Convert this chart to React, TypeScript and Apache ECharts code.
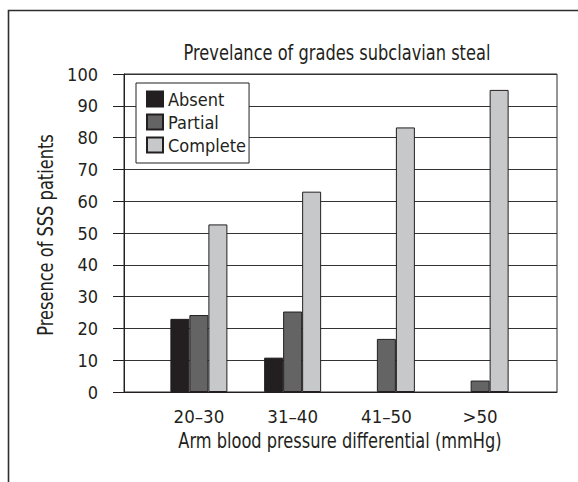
import React, { useEffect, useRef } from "react";
import * as echarts from "echarts";

const categories = ["20–30", "31–40", "41–50", ">50"];
const absent: (number | string)[] = [23, 10.8, "-", "-"];
const partial = [24.2, 25.3, 16.7, 3.6];
const complete = [52.7, 63, 83.2, 95];
const yTicks = { min: 0, max: 100, interval: 10 };
const titleText = "Prevelance of grades subclavian steal";
const xName = "Arm blood pressure differential (mmHg)";
const yName = "Presence of SSS patients";

const FONT = "'Liberation Sans Narrow', 'DejaVu Sans Condensed', sans-serif";
const INK = "#231f20";
const SQUEEZE = 0.82;

export default function App() {
  const ref = useRef<HTMLDivElement>(null);
  useEffect(() => {
    if (!ref.current) return;
    const chart = echarts.init(ref.current, null, { renderer: "svg" });
    const barStyle = (color: string) => ({ color, borderColor: INK, borderWidth: 1 });
    const label = (text: string, x: number, y: number, rotation = 0) => ({
      type: "text",
      x,
      y,
      rotation,
      scaleX: SQUEEZE,
      silent: true,
      style: {
        text,
        font: `22px ${FONT}`,
        fill: INK,
        textAlign: "center",
        textVerticalAlign: "middle",
      },
    });
    chart.setOption({
      animation: false,
      backgroundColor: "#fff",
      textStyle: { fontFamily: FONT, color: INK },
      graphic: [
        {
          type: "rect",
          shape: { x: 8.5, y: 10.5, width: 620, height: 520 },
          style: { fill: "none", stroke: "#2e2e2e", lineWidth: 1.6 },
          silent: true,
        },
        label(titleText, 337, 52),
        label(xName, 340, 440),
        label(yName, 45, 235, Math.PI / 2),
      ],
      grid: [
        { left: 124, right: 21, top: 74, bottom: 90, show: true, borderColor: "#2a2a2a", borderWidth: 1, backgroundColor: "transparent" },
        { left: 152, right: 51, top: 74, bottom: 90 },
      ],
      legend: {
        data: ["Absent", "Partial", "Complete"],
        orient: "vertical",
        left: 136,
        top: 83,
        backgroundColor: "#fff",
        borderColor: INK,
        borderWidth: 1,
        borderRadius: 0,
        padding: [5, 3, 7, 10],
        itemWidth: 16,
        itemHeight: 15,
        itemGap: 1,
        icon: "rect",
        textStyle: { fontFamily: FONT, fontSize: 18, color: INK, lineHeight: 22 },
      },
      xAxis: [
        {
          gridIndex: 0,
          type: "value",
          min: 0,
          max: 1,
          axisLabel: { show: false },
          axisTick: { show: false },
          splitLine: { show: false },
          axisLine: { show: true, lineStyle: { color: INK, width: 1 } },
        },
        {
          gridIndex: 1,
          type: "category",
          data: categories,
          axisLine: { show: false },
          axisTick: { show: false },
          axisLabel: { fontFamily: FONT, fontSize: 18.5, color: INK, margin: 15 },
        },
      ],
      yAxis: [
        {
          gridIndex: 0,
          type: "value",
          ...yTicks,
          axisLine: { show: true, lineStyle: { color: INK, width: 1 } },
          axisTick: { show: true, length: 11, lineStyle: { color: INK } },
          axisLabel: { fontFamily: FONT, fontSize: 18, color: INK, margin: 26 },
          splitLine: { show: true, lineStyle: { color: "#333", width: 1 } },
        },
        {
          gridIndex: 1,
          type: "value",
          ...yTicks,
          show: false,
        },
      ],
      series: [
        { name: "Absent", type: "bar", xAxisIndex: 1, yAxisIndex: 1, data: absent, barWidth: 19, barGap: "0%", itemStyle: barStyle(INK) },
        { name: "Partial", type: "bar", xAxisIndex: 1, yAxisIndex: 1, data: partial, barWidth: 19, barGap: "0%", itemStyle: barStyle("#646464") },
        { name: "Complete", type: "bar", xAxisIndex: 1, yAxisIndex: 1, data: complete, barWidth: 19, barGap: "0%", itemStyle: barStyle("#c7c8c9") },
      ],
    });
    return () => chart.dispose();
  }, []);
  return <div ref={ref} style={{ position: "fixed", left: 0, top: 0, width: 578, height: 482 }} />;
}
